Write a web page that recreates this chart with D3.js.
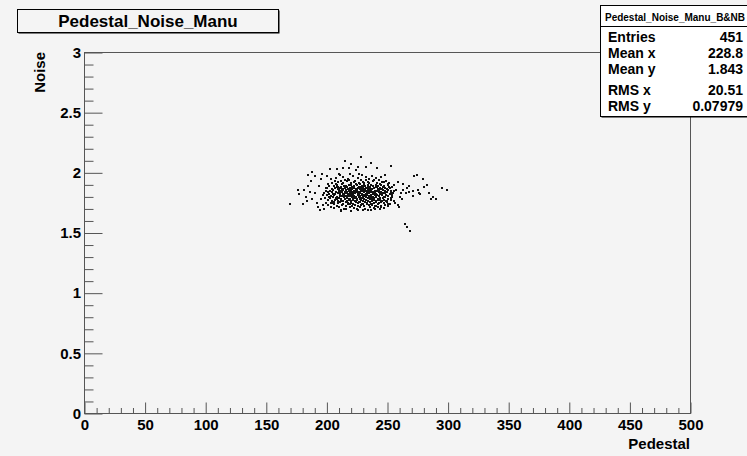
<!DOCTYPE html>
<html><head><meta charset="utf-8">
<script src="https://cdn.jsdelivr.net/npm/d3@7"></script>
<style>
html,body{margin:0;padding:0;background:#f4f4f4;}
svg{display:block;}
text{font-family:"Liberation Sans",Arial,Helvetica,sans-serif;font-weight:bold;fill:#000;}
</style></head><body>
<svg id="c" width="747" height="456"></svg>
<script>
// ---------- data ----------
const chartTitle = "Pedestal_Noise_Manu";
const statsTitle = "Pedestal_Noise_Manu_B&NB";
const statLabels = ["Entries","Mean x","Mean y","RMS x","RMS y"];
const statValues = ["451","228.8","1.843","20.51","0.07979"];
const xTitle = "Pedestal", yTitle = "Noise";
const xMajorTicks = [0,50,100,150,200,250,300,350,400,450,500];
const yMajorTicks = [0,0.5,1,1.5,2,2.5,3];
const yTickLabels = ["0","0.5","1","1.5","2","2.5","3"];

// sparse outer points (pedestal, noise)
const outerPoints = [
[169.7,1.74],[177,1.82],[176.5,1.86],[184.5,1.89],[184.5,1.98],[188,2.01],[190,1.97],[193.6,1.89],[195,1.945],[200,1.97],
[202.6,2.03],[208,2.03],[210,1.99],[213,2.04],[215,2.10],[218.5,2.04],[224,2.02],[183,1.80],[183.4,1.77],[188,1.78],
[191.7,1.75],[192.8,1.72],[195,1.78],[197,1.815],[200.7,1.84],[202,1.80],[205,1.75],[206,1.705],[209,1.88],[210,1.79],
[180,1.74],[186,1.84],[190,1.83],[194,1.69],[197,1.73],[199,1.87],[198,1.70],[201,1.91],[203,1.95],[187,1.93],[181,1.86],[196,1.99],
[228,2.13],[236.4,2.08],[253,2.06],[220,2.07],[232,2.05],[241,2.04],[226,2.05],
[272,1.97],[274,1.98],[279,1.95],[295,1.875],[298.7,1.86],[290,1.78],[287.7,1.80],[284,1.83],[280.3,1.88],[276,1.83],
[275,1.856],[270.7,1.85],[267.4,1.84],[265,1.83],[263,1.906],[261,1.83],[258.4,1.73],[259.7,1.72],[256,1.75],[255,1.77],
[264.4,1.575],[266.5,1.55],[268.5,1.516],[262.4,1.856],[250,1.91],[258.4,1.925],[247.4,1.925],[251.5,1.88],[248.8,1.77],
[247.4,1.705],[243.8,1.70],[252.9,1.83],[254,1.80],
[268,1.89],[283,1.90],[277,1.82],[286,1.78],[262,1.78],[257,1.86],[260,1.80],[266,1.87],[271,1.81],[255,1.90],[250,1.74],
[245,1.72],[240,1.70],[236,1.69],[230,1.69],[225,1.70],[216,1.70],[212,1.68],[220,1.68]
];

// dense core points (pedestal, noise)
const corePoints = [
[203.5,1.712],[209.8,1.718],[214.2,1.703],[218.9,1.715],[222.4,1.709],[227.1,1.719],[231.6,1.701],[235.3,1.713],[238.8,1.706],[242.5,1.717],[246.7,1.711],[226.0,1.694],[233.9,1.688],[211.5,1.695],[240.2,1.725],
[201.2,1.731],[205.6,1.738],[208.3,1.726],[212.7,1.735],[215.4,1.722],[217.8,1.739],[220.6,1.728],[223.3,1.736],[225.9,1.724],[228.4,1.733],[230.2,1.721],[232.8,1.737],[234.6,1.729],[237.1,1.734],[239.5,1.723],[241.9,1.738],[244.3,1.727],[247.8,1.732],[250.6,1.725],[219.2,1.744],[229.7,1.745],[236.4,1.742],
[199.4,1.752],[203.1,1.746],[206.2,1.758],[208.8,1.749],[210.9,1.755],[213.4,1.742],[215.7,1.757],[217.5,1.748],[219.8,1.753],[221.6,1.741],[223.7,1.759],[225.3,1.747],[227.6,1.754],[229.2,1.743],[231.4,1.756],[233.2,1.749],[235.5,1.757],[237.3,1.744],[239.1,1.752],[240.8,1.759],[242.7,1.746],[244.9,1.754],[247.2,1.749],[249.5,1.757],[252.3,1.745],[222.8,1.762],[212.1,1.763],[234.1,1.764],
[200.8,1.772],[204.4,1.766],[206.9,1.778],[209.2,1.769],[211.3,1.775],[213.0,1.762],[214.8,1.779],[216.6,1.768],[218.3,1.774],[220.1,1.765],[221.9,1.777],[223.5,1.767],[225.2,1.773],[226.8,1.761],[228.5,1.776],[230.1,1.768],[231.9,1.774],[233.6,1.763],[235.2,1.779],[236.9,1.769],[238.6,1.775],[240.4,1.764],[242.1,1.772],[243.8,1.778],[245.6,1.767],[247.4,1.774],[249.9,1.769],[253.2,1.776],[227.7,1.783],[219.4,1.782],[238.0,1.784],[208.1,1.784],
[198.6,1.792],[202.3,1.787],[205.0,1.798],[207.4,1.789],[209.6,1.795],[211.8,1.781],[213.7,1.797],[215.3,1.786],[216.9,1.793],[218.6,1.781],[220.3,1.799],[221.8,1.788],[223.2,1.794],[224.7,1.782],[226.3,1.797],[227.9,1.787],[229.4,1.793],[230.9,1.781],[232.5,1.798],[234.0,1.789],[235.7,1.795],[237.4,1.783],[239.0,1.791],[240.6,1.797],[242.3,1.785],[244.1,1.793],[246.0,1.788],[247.9,1.796],[250.1,1.784],[252.6,1.792],[222.6,1.803],[231.7,1.806],[217.2,1.805],[236.6,1.802],[211.0,1.804],[243.2,1.806],
[199.9,1.812],[203.6,1.808],[206.1,1.817],[208.5,1.803],[210.4,1.814],[212.4,1.809],[214.1,1.818],[215.8,1.804],[217.6,1.815],[219.1,1.807],[220.8,1.819],[222.2,1.811],[223.9,1.802],[225.5,1.816],[227.0,1.806],[228.7,1.813],[230.3,1.819],[231.8,1.804],[233.4,1.815],[234.9,1.809],[236.4,1.817],[238.1,1.803],[239.8,1.812],[241.5,1.818],[243.3,1.807],[245.1,1.814],[246.8,1.803],[248.6,1.816],[250.7,1.809],[253.8,1.813],[218.4,1.823],[226.1,1.825],[233.0,1.824],[240.9,1.826],[212.9,1.826],[229.6,1.801],[221.4,1.822],[237.7,1.821],[205.3,1.824],[244.6,1.822],
[197.8,1.832],[201.5,1.828],[204.2,1.837],[206.7,1.823],[208.9,1.834],[210.7,1.829],[212.2,1.838],[213.9,1.821],[215.5,1.833],[217.0,1.827],[218.7,1.839],[220.2,1.824],[221.7,1.835],[223.1,1.829],[224.6,1.838],[226.0,1.822],[227.4,1.834],[228.9,1.828],[230.4,1.839],[231.9,1.823],[233.3,1.835],[234.8,1.829],[236.2,1.838],[237.8,1.824],[239.3,1.833],[240.9,1.827],[242.6,1.839],[244.2,1.825],[245.9,1.834],[247.7,1.829],[249.6,1.837],[251.8,1.826],[254.5,1.833],[216.3,1.842],[225.3,1.843],[232.7,1.841],[219.9,1.845],[228.2,1.846],[239.9,1.844],[210.0,1.843],[235.5,1.846],[222.9,1.841],
[198.9,1.852],[202.8,1.847],[205.4,1.858],[207.8,1.843],[209.7,1.854],[211.5,1.849],[213.2,1.857],[214.7,1.842],[216.1,1.855],[217.9,1.848],[219.4,1.859],[220.7,1.844],[222.1,1.853],[223.6,1.849],[225.0,1.857],[226.5,1.843],[227.8,1.856],[229.3,1.848],[230.7,1.858],[232.2,1.845],[233.7,1.854],[235.1,1.849],[236.7,1.857],[238.3,1.843],[239.7,1.853],[241.3,1.847],[242.9,1.858],[244.6,1.844],[246.4,1.855],[248.2,1.849],[250.3,1.856],[252.7,1.846],[255.6,1.853],[218.2,1.862],[224.3,1.864],[231.2,1.861],[237.2,1.863],[212.6,1.865],[228.6,1.861],[243.7,1.862],[221.0,1.866],[234.4,1.865],
[200.3,1.872],[204.0,1.867],[206.6,1.876],[209.0,1.862],[211.1,1.874],[213.6,1.869],[215.2,1.878],[217.3,1.863],[219.0,1.873],[220.9,1.868],[222.5,1.877],[224.0,1.864],[225.7,1.875],[227.2,1.869],[228.8,1.878],[230.5,1.863],[232.1,1.874],[233.8,1.868],[235.4,1.877],[237.0,1.865],[238.7,1.872],[240.3,1.879],[242.0,1.866],[243.9,1.874],[245.7,1.868],[247.6,1.877],[249.8,1.864],[252.4,1.873],[216.4,1.884],[226.4,1.883],[234.2,1.882],[241.1,1.885],[208.4,1.882],[221.3,1.881],[229.9,1.885],[246.3,1.883],
[201.9,1.892],[205.7,1.887],[208.6,1.897],[211.4,1.883],[213.8,1.894],[216.0,1.888],[218.1,1.898],[220.4,1.885],[222.7,1.893],[224.8,1.899],[226.9,1.886],[229.1,1.894],[231.3,1.889],[233.5,1.897],[235.8,1.884],[237.9,1.893],[240.1,1.899],[242.4,1.887],[244.8,1.895],[247.3,1.888],[250.2,1.896],[253.5,1.884],[219.6,1.903],[227.5,1.905],[236.1,1.902],[212.3,1.904],[243.5,1.906],[231.0,1.901],[207.2,1.905],[223.8,1.907],
[203.8,1.912],[209.3,1.922],[213.1,1.915],[216.8,1.928],[220.0,1.918],[223.4,1.933],[226.2,1.914],[229.8,1.926],[232.6,1.937],[235.0,1.919],[238.4,1.929],[241.7,1.913],[245.2,1.924],[248.9,1.935],[218.5,1.938],[228.3,1.941],[238.9,1.943],[211.7,1.936],[206.5,1.928],[233.9,1.925],[243.0,1.939],[251.4,1.916],[222.0,1.925],[215.0,1.942],[230.8,1.912],
[207.5,1.955],[213.5,1.968],[217.7,1.952],[221.2,1.976],[225.4,1.958],[229.0,1.983],[232.4,1.962],[236.8,1.971],[240.5,1.953],[244.4,1.964],[248.3,1.978],[226.6,1.994],[219.0,1.991],[234.6,1.947],[210.5,1.985]
];

// ---------- drawing ----------
const svg = d3.select("#c");
const W = 747, H = 456;
const frame = {l:84.5, r:690.5, t:52.5, b:413.5};
svg.append("rect").attr("width",W).attr("height",H).attr("fill","#f4f4f4");

const x = d3.scaleLinear().domain([0,500]).range([frame.l, frame.r]);
const y = d3.scaleLinear().domain([0,3]).range([frame.b, frame.t]);

const tickColor = "#555";

const gxMinor = svg.append("g").attr("transform",`translate(0,${frame.b})`)
  .call(d3.axisBottom(x).tickValues(d3.range(0,501,10).filter(v=>v%50!==0)).tickSize(-5.5).tickFormat(""));
const gx = svg.append("g").attr("transform",`translate(0,${frame.b})`)
  .call(d3.axisBottom(x).tickValues(xMajorTicks).tickSize(-11).tickPadding(6).tickFormat(d3.format("d")));
const gyMinor = svg.append("g").attr("transform",`translate(${frame.l},0)`)
  .call(d3.axisLeft(y).tickValues(d3.range(0,31).map(i=>i/10).filter(v=>Math.round(v*10)%5!==0)).tickSize(-9).tickFormat(""));
const gy = svg.append("g").attr("transform",`translate(${frame.l},0)`)
  .call(d3.axisLeft(y).tickValues(yMajorTicks).tickSize(-18).tickPadding(3.5).tickFormat((d,i)=>yTickLabels[i]));

[gx,gxMinor,gy,gyMinor].forEach(g=>{
  g.select(".domain").remove();
  g.selectAll(".tick line").attr("stroke",tickColor).attr("stroke-width",1);
  g.selectAll(".tick text").attr("font-family",'"Liberation Sans",Arial,sans-serif')
    .attr("font-weight","bold").attr("font-size",15).attr("fill","#000");
});

svg.append("rect").attr("x",frame.l).attr("y",frame.t)
  .attr("width",frame.r-frame.l).attr("height",frame.b-frame.t)
  .attr("fill","none").attr("stroke",tickColor).attr("stroke-width",1);

const allPoints = outerPoints.concat(corePoints);
svg.append("g").selectAll("rect").data(allPoints).join("rect")
  .attr("x",d=>Math.round(x(d[0]))-1).attr("y",d=>Math.round(y(d[1]))-1)
  .attr("width",2).attr("height",2).attr("fill","#111");

svg.append("text").attr("x",690).attr("y",449).attr("text-anchor","end")
  .attr("font-size",15).text(xTitle);
svg.append("text").attr("transform","translate(45,52) rotate(-90)").attr("text-anchor","end")
  .attr("font-size",15).text(yTitle);

const tb = {x:17.5,y:9.5,w:261,h:23};
svg.append("rect").attr("x",tb.x+1).attr("y",tb.y+1).attr("width",tb.w).attr("height",tb.h).attr("fill","#000");
svg.append("rect").attr("x",tb.x).attr("y",tb.y).attr("width",tb.w).attr("height",tb.h)
  .attr("fill","#f4f4f4").attr("stroke","#000").attr("stroke-width",1);
svg.append("text").attr("x",tb.x+tb.w/2).attr("y",27).attr("text-anchor","middle")
  .attr("font-size",17).text(chartTitle);

const sb = {x:600.5,y:5.5,w:150,h:111};
svg.append("rect").attr("x",sb.x+1).attr("y",sb.y+1).attr("width",sb.w).attr("height",sb.h).attr("fill","#000");
svg.append("rect").attr("x",sb.x).attr("y",sb.y).attr("width",sb.w).attr("height",sb.h)
  .attr("fill","#fff").attr("stroke","#000").attr("stroke-width",1);
svg.append("line").attr("x1",sb.x).attr("x2",sb.x+sb.w).attr("y1",26.5).attr("y2",26.5).attr("stroke","#000");
svg.append("text").attr("x",675).attr("y",20.5).attr("text-anchor","middle")
  .attr("font-size",10).text(statsTitle);
const rowY = [41.5,58,74,95,110.5];
statLabels.forEach((l,i)=>{
  svg.append("text").attr("x",608).attr("y",rowY[i]).attr("font-size",14).text(l);
  svg.append("text").attr("x",743).attr("y",rowY[i]).attr("text-anchor","end").attr("font-size",14).text(statValues[i]);
});
</script></body></html>
